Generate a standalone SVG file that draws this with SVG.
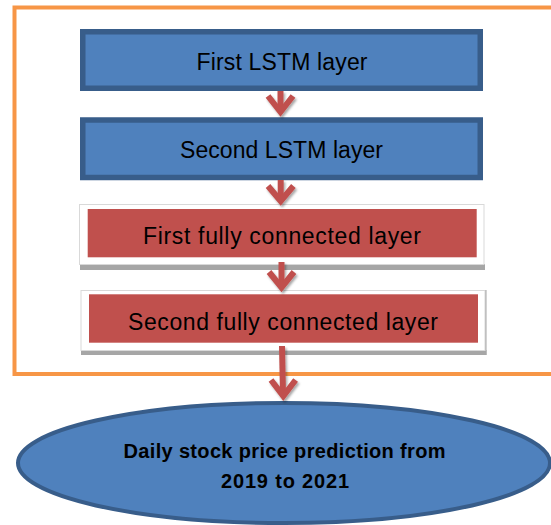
<svg xmlns="http://www.w3.org/2000/svg" width="551" height="525" viewBox="0 0 551 525">
  <style>
    .frame { fill: none; stroke: #f79646; stroke-width: 4; }
    .lstm { fill: #4f81bd; stroke: #385d8a; stroke-width: 5.5; }
    .card { fill: #ffffff; stroke: #d9d9d9; stroke-width: 1; }
    .shadow { fill: #a6a6a6; }
    .fc { fill: #c0504d; }
    .lbl { font-family: "Liberation Sans", Arial, sans-serif; font-size: 23px; fill: #000000; text-anchor: middle; }
    .out { fill: #4f81bd; stroke: #385d8a; stroke-width: 4; }
    .outlbl { font-family: "Liberation Sans", Arial, sans-serif; font-size: 20px; font-weight: bold; fill: #000000; text-anchor: middle; }
    .shaft { stroke: #c0504d; stroke-width: 6; fill: none; }
    .head { stroke: #c0504d; stroke-width: 6; fill: none; stroke-linejoin: miter; stroke-miterlimit: 10; }
  </style>
  <defs>
    <filter id="sh" x="-50%" y="-50%" width="200%" height="200%">
      <feDropShadow dx="1.5" dy="2" stdDeviation="1" flood-color="#000000" flood-opacity="0.35"/>
    </filter>
  </defs>

  <rect id="frame" class="frame" x="14.5" y="7.5" width="560" height="366.5"/>

  <g id="node-first-lstm">
    <rect class="lstm" x="82.75" y="31.75" width="397.5" height="56.5"/>
    <text class="lbl" x="282" y="69.5" textLength="171">First LSTM layer</text>
  </g>

  <g id="node-second-lstm">
    <rect class="lstm" x="82.75" y="120" width="397.5" height="57.5"/>
    <text class="lbl" x="281.5" y="158" textLength="203">Second LSTM layer</text>
  </g>

  <g id="node-first-fc">
    <rect class="shadow" x="80" y="264" width="405" height="6"/>
    <rect class="card" x="79.5" y="204.5" width="404.5" height="60"/>
    <rect class="fc" x="87.7" y="209" width="389" height="48.3"/>
    <text class="lbl" x="282" y="243.5" textLength="278">First fully connected layer</text>
  </g>

  <g id="node-second-fc">
    <rect class="shadow" x="81" y="350" width="405.5" height="5"/>
    <rect class="shadow" x="485" y="290" width="1.5" height="65"/>
    <rect class="card" x="81" y="290.5" width="404" height="60"/>
    <rect class="fc" x="89" y="294.3" width="389" height="48.4"/>
    <text class="lbl" x="283" y="330" textLength="310">Second fully connected layer</text>
  </g>

  <g id="node-output">
    <ellipse class="out" cx="284" cy="463" rx="266" ry="60"/>
    <text class="outlbl" x="284.5" y="457.5" textLength="322">Daily stock price prediction from</text>
    <text class="outlbl" x="285" y="488" textLength="128">2019 to 2021</text>
  </g>

  <g id="connectors" filter="url(#sh)">
    <path class="shaft" d="M280.5 91 L280.5 110"/>
    <path class="head" d="M268 96 L280.5 112 L293 96"/>

    <path class="shaft" d="M280.7 180 L280.7 199"/>
    <path class="head" d="M268 186 L280.7 201 L293.4 186"/>

    <path class="shaft" d="M281.5 262 L281.5 286"/>
    <path class="head" d="M269 272 L281.5 287.5 L294 272"/>

    <path class="shaft" d="M282 346 L283 394"/>
    <path class="head" d="M271 380 L283.3 396 L295.6 380"/>
  </g>
</svg>
